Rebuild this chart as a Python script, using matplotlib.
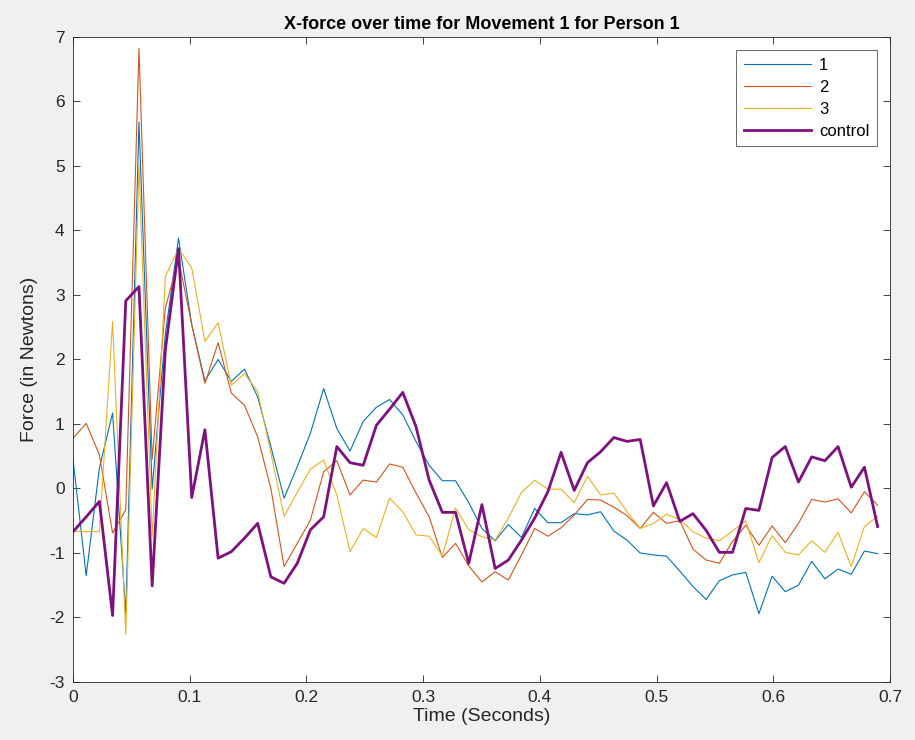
import numpy as np
import matplotlib
matplotlib.use("Agg")
import matplotlib.pyplot as plt

plt.rcParams['font.family'] = ['Liberation Sans', 'DejaVu Sans']
plt.rcParams['axes.unicode_minus'] = False

dt = 0.0113
series1 = [0.45, -1.35, 0.32, 1.17, -1.95, 5.68, -0.01, 2.4, 3.88, 2.54, 1.67, 2.00, 1.66, 1.85, 1.42,
           0.65, -0.15, 0.34, 0.86, 1.55, 0.93, 0.58, 1.04, 1.26, 1.38, 1.14, 0.73, 0.36, 0.12, 0.12,
           -0.22, -0.62, -0.81, -0.56, -0.76, -0.31, -0.53, -0.53, -0.39, -0.41, -0.36, -0.66, -0.80,
           -1.00, -1.03, -1.05, -1.28, -1.52, -1.72, -1.43, -1.34, -1.30, -1.94, -1.36, -1.60, -1.50,
           -1.13, -1.40, -1.25, -1.33, -0.97, -1.01]
series2 = [0.78, 1.01, 0.52, -0.69, -0.33, 6.82, 0.45, 2.80, 3.55, 2.54, 1.63, 2.26, 1.48, 1.29, 0.80,
           0.0, -1.21, -0.85, -0.49, 0.26, 0.43, -0.10, 0.13, 0.10, 0.38, 0.33, -0.07, -0.44, -1.07,
           -0.85, -1.20, -1.45, -1.29, -1.42, -1.03, -0.62, -0.74, -0.61, -0.41, -0.17, -0.18, -0.29,
           -0.42, -0.62, -0.37, -0.54, -0.50, -0.94, -1.11, -1.16, -0.82, -0.57, -0.88, -0.58, -0.84,
           -0.54, -0.17, -0.21, -0.16, -0.38, -0.05, -0.26]
series3 = [-0.66, -0.67, -0.67, 2.59, -2.26, 5.02, -0.75, 3.29, 3.72, 3.42, 2.28, 2.57, 1.60, 1.78, 1.50,
           0.55, -0.43, -0.06, 0.30, 0.44, -0.10, -0.98, -0.62, -0.76, -0.15, -0.36, -0.72, -0.74, -1.05,
           -0.30, -0.64, -0.75, -0.80, -0.46, -0.06, 0.13, -0.01, -0.01, -0.22, 0.19, -0.10, -0.07,
           -0.36, -0.62, -0.54, -0.40, -0.48, -0.67, -0.77, -0.81, -0.66, -0.50, -1.15, -0.73, -0.99,
           -1.03, -0.81, -0.99, -0.68, -1.21, -0.59, -0.43]
control = [-0.67, -0.44, -0.20, -1.97, 2.91, 3.13, -1.51, 2.15, 3.72, -0.14, 0.91, -1.08, -0.98, -0.77,
           -0.54, -1.37, -1.47, -1.16, -0.64, -0.44, 0.65, 0.40, 0.36, 0.98, 1.23, 1.49, 0.96, 0.13,
           -0.37, -0.37, -1.16, -0.25, -1.24, -1.11, -0.80, -0.46, -0.05, 0.56, -0.03, 0.40, 0.57, 0.79,
           0.73, 0.76, -0.27, 0.09, -0.51, -0.39, -0.65, -0.99, -0.99, -0.31, -0.34, 0.48, 0.65, 0.10,
           0.49, 0.43, 0.65, 0.02, 0.33, -0.59]
labels = ['1', '2', '3', 'control']
t = np.arange(len(control)) * dt

xticks = [0, 0.1, 0.2, 0.3, 0.4, 0.5, 0.6, 0.7]
xticklabels = ['0', '0.1', '0.2', '0.3', '0.4', '0.5', '0.6', '0.7']
yticks = list(range(-3, 8))

fig = plt.figure(figsize=(9.15, 7.4), dpi=100, facecolor='#f0f0f0')
ax = fig.add_axes([0.0798, 0.0784, 0.893, 0.8716])
ax.set_facecolor('white')

ax.plot(t, series1, color='#0072BD', lw=0.8, label=labels[0])
ax.plot(t, series2, color='#D95319', lw=0.8, label=labels[1])
ax.plot(t, series3, color='#EDB120', lw=0.8, label=labels[2])
ax.plot(t, control, color='#7E1080', lw=2.0, label=labels[3])

ax.set_xlim(0, 0.7)
ax.set_ylim(-3, 7)
ax.set_xticks(xticks)
ax.set_xticklabels(xticklabels)
ax.set_yticks(yticks)
ax.tick_params(direction='in', length=5, width=0.6, colors='#262626', labelsize=12.5,
               top=True, right=True, pad=6)
for s in ax.spines.values():
    s.set_color('#262626')
    s.set_linewidth(0.6)

ax.set_title('X-force over time for Movement 1 for Person 1', fontsize=13, fontweight='bold', pad=6)
ax.set_xlabel('Time (Seconds)', fontsize=14, color='#262626', labelpad=2)
ax.set_ylabel('Force (in Newtons)', fontsize=14, color='#262626', labelpad=8)

leg = ax.legend(loc='upper right', fontsize=12, frameon=True, fancybox=False, edgecolor='#262626',
                handlelength=4.0, borderaxespad=0.8, labelspacing=0.42, handletextpad=0.5,
                borderpad=0.45)
leg.get_frame().set_linewidth(0.6)

fig.savefig('out.png', dpi=100, facecolor=fig.get_facecolor())
